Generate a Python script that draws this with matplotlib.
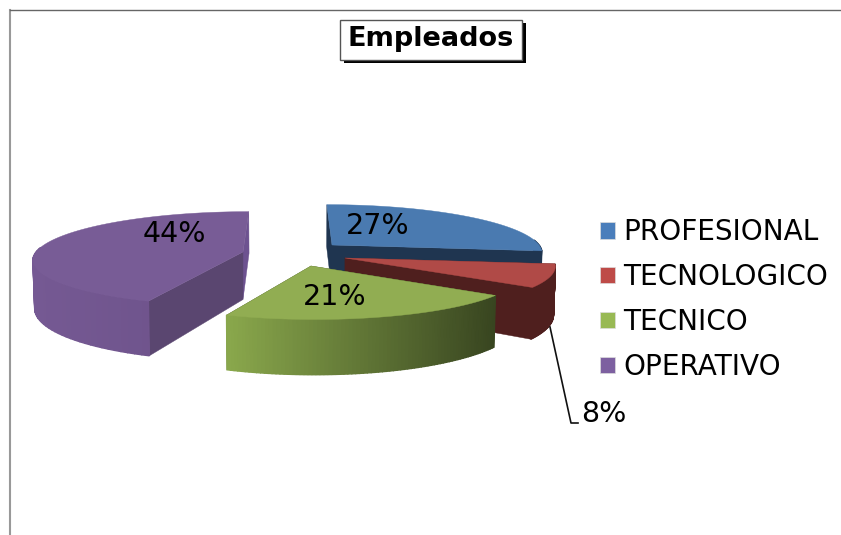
import numpy as np
import matplotlib
matplotlib.use('Agg')
import matplotlib.pyplot as plt
from matplotlib.patches import Patch, Rectangle
from matplotlib.colors import to_rgb

title = 'Empleados'
categories = ['PROFESIONAL', 'TECNOLOGICO', 'TECNICO', 'OPERATIVO']
percent = [27, 8, 21, 44]

legend_colors = ['#4a7ebb', '#be4b48', '#98b954', '#7d60a0']
top_colors = ['#4a7ab0', '#b04a47', '#91ad52', '#785c96']
start_face = ['#1f3550', '#4f1f1e', '#3c4a20', '#5a4670']
end_face = ['#1f3550', '#4f1f1e', '#3c4a20', '#6d5290']
wall_left = ['#1f3550', '#4f1f1e', '#8aa84c', '#755993']
wall_right = ['#1f3550', '#4f1f1e', '#384520', '#6b5088']

# pie geometry, in pixels of the picture
CX, CY = 290, 252
RX, RY, DEPTH = 207, 46, 47.5
PERSP = 0.14
# how far each slice is pulled out of the centre
explode_x = [42, 55, 21, -47]
explode_y = [-7, 6, 14, 0]

LABEL_X = [378, 0, 335, 174]
LABEL_Y = [226, 0, 297, 234]


def project(ox, oy, theta, low=False):
    s = 1 / (1 + PERSP * np.cos(theta))
    x = ox + RX * np.sin(theta) * s + (ox - CX) * (s - 1)
    y = oy - RY * np.cos(theta) * s
    if low:
        y = y + DEPTH * s
        x = CX + (x - CX) * 0.993
    return x, y


fig = plt.figure(figsize=(8.41, 5.35), dpi=100)
ax = fig.add_axes([0, 0, 1, 1])
ax.set_xlim(0, 841)
ax.set_ylim(535, 0)
ax.axis('off')

# frame of the pasted chart
ax.plot([10, 10], [535, 9.5], color='#999999', lw=1.5, zorder=1)
ax.plot([10, 841], [9.5, 9.5], color='#666666', lw=1.0, zorder=1)

bounds = np.radians(np.concatenate([[0], np.cumsum(percent)]) * 3.6)

for i in range(len(percent)):
    ox, oy = CX + explode_x[i], CY + explode_y[i]
    t = np.linspace(bounds[i], bounds[i + 1], 80)
    z = 10 + i

    # the two cut faces go first, the wall and the top hide what we cannot see
    for th, col in ((bounds[i + 1], end_face[i]), (bounds[i], start_face[i])):
        xt, yt = project(ox, oy, th)
        xl, yl = project(ox, oy, th, low=True)
        ax.fill([ox, xt, xl, ox], [oy, yt, yl, oy + DEPTH], color=col, lw=0.3,
                zorder=z)

    # outer wall, only the part facing us, shaded strip by strip
    xmin, xmax = project(ox, oy, t)[0].min(), project(ox, oy, t)[0].max()
    c0, c1 = np.array(to_rgb(wall_left[i])), np.array(to_rgb(wall_right[i]))
    for a, b in zip(t[:-1], t[1:]):
        if np.cos(a) > 0.1 and np.cos(b) > 0.1:
            continue
        xa, ya = project(ox, oy, np.array([a, b]))
        xb, yb = project(ox, oy, np.array([a, b]), low=True)
        f = (xa.mean() - xmin) / (xmax - xmin)
        col = c0 + (c1 - c0) * f
        ax.fill([xa[0], xa[1], xb[1], xb[0]], [ya[0], ya[1], yb[1], yb[0]],
                color=col, lw=1.0, zorder=z + 0.2)

    # top of the slice
    xt, yt = project(ox, oy, t)
    ax.fill(np.r_[ox, xt], np.r_[oy, yt], color=top_colors[i], lw=0.3, zorder=z + 0.4)

for i in range(len(percent)):
    if LABEL_X[i]:
        ax.text(LABEL_X[i], LABEL_Y[i], '%d%%' % percent[i], fontsize=20.5, ha='center',
                va='center', color='black', zorder=30)

# small slice has its label outside, with a leader line
ax.plot([550, 571, 578], [327, 423, 423], color='#111111', lw=1.2, zorder=25)
ax.text(604, 414, '%d%%' % percent[1], fontsize=20.5, ha='center', va='center', zorder=30)

# title box with hard shadow
ax.add_patch(Rectangle((344, 23), 182, 40, fc='black', ec='none', zorder=20))
ax.add_patch(Rectangle((340, 19.5), 182, 40, fc='white', ec='#555555', lw=1, zorder=21))
ax.text(431, 39, title, fontsize=19.5, fontweight='bold', ha='center', va='center', zorder=22)

handles = [Patch(facecolor=c, edgecolor='#dddddd', lw=0.5) for c in legend_colors]
ax.legend(handles, categories, loc='center left', bbox_to_anchor=(600 / 841, 1 - 299.5 / 535),
          frameon=False, fontsize=20.1, handlelength=0.53, handleheight=0.53,
          handletextpad=0.3, labelspacing=0.6, borderpad=0, borderaxespad=0)

plt.savefig('out.png', dpi=100)
